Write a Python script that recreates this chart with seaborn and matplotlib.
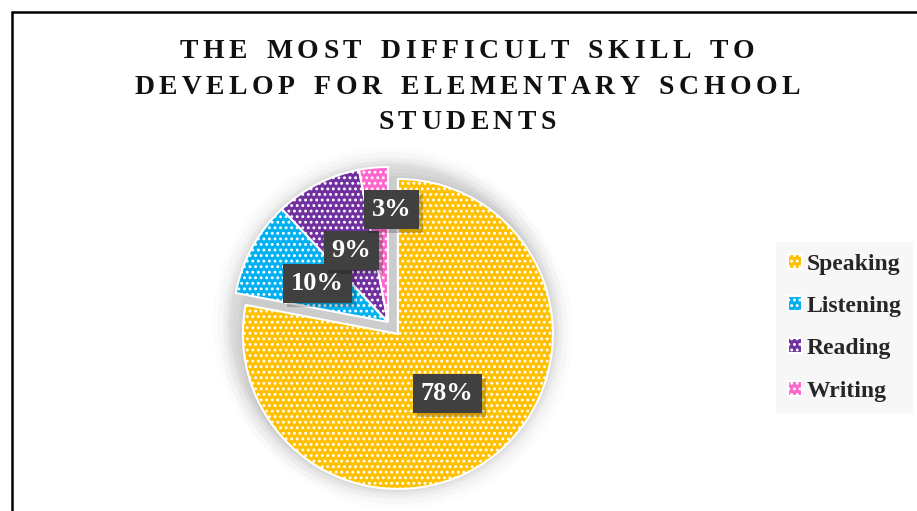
import matplotlib
matplotlib.use("Agg")
import matplotlib.pyplot as plt
import matplotlib.patheffects as pe
import seaborn as sns
import numpy as np
from matplotlib.lines import Line2D

sns.set_theme(style="white")
plt.rcParams['font.family'] = ['Liberation Serif', 'DejaVu Serif']
plt.rcParams['hatch.linewidth'] = 1.3

# data
categories = ["Speaking", "Listening", "Reading", "Writing"]
values = [78, 10, 9, 3]
labels_pct = ["78%", "10%", "9%", "3%"]
colors = ["#FFC000", "#00B0F0", "#7030A0", "#FF66CC"]
title_lines = ["THE MOST DIFFICULT SKILL TO", "DEVELOP FOR ELEMENTARY SCHOOL", "STUDENTS"]

W, H = 917, 511
fig = plt.figure(figsize=(W / 100, H / 100), dpi=100)
fig.patch.set_facecolor("white")
ax = fig.add_axes([0, 0, 1, 1])
ax.axis("off")

center = (388, H - 322)
R = 155
explode = [0.1 * R, 0, 0, 0]
label_dist = [0.5, 0.52, 0.52, 0.73]

# soft shadow (glow behind the two parts of the pie)
mid = np.deg2rad(90 - 360 * values[0] / sum(values) / 2)
sp_center = (center[0] + explode[0] * np.cos(mid), center[1] + explode[0] * np.sin(mid))
for d, a in [(20, 0.02), (15, 0.03), (10, 0.04), (6, 0.05), (3, 0.06)]:
    for c in (center, sp_center):
        ax.pie([1], center=c, radius=R + d, colors=["#707070"],
               wedgeprops=dict(alpha=a, linewidth=0))

wedges, _ = ax.pie(values, center=center, radius=R, explode=explode, startangle=90,
                   counterclock=False, colors=colors,
                   wedgeprops=dict(edgecolor="white", linewidth=1.5, hatch="..."))
ax.set_xlim(0, W)
ax.set_ylim(0, H)
ax.set_aspect("equal")

for w, lab, dist in zip(wedges, labels_pct, label_dist):
    ang = np.deg2rad((w.theta1 + w.theta2) / 2)
    cx, cy = w.center
    x = cx + dist * R * np.cos(ang)
    y = cy + dist * R * np.sin(ang)
    if lab == "3%":
        x += 14
    t = ax.text(x, y, lab, ha="center", va="center", color="white", fontsize=19,
                fontweight="bold",
                bbox=dict(boxstyle="square,pad=0.3", fc="#404040", ec="none"))
    t.get_bbox_patch().set_path_effects(
        [pe.SimplePatchShadow(offset=(3, -3), shadow_rgbFace="black", alpha=0.2), pe.Normal()])

# title with letter spacing (each glyph placed with extra tracking)
renderer = fig.canvas.get_renderer()
tracking = 4.5  # px
baselines = [58, 93.5, 129]
for line, base in zip(title_lines, baselines):
    arts = []
    widths = []
    for ch in line:
        t = fig.text(0, 0, ch, fontsize=20, fontweight="bold", color="#111111",
                     ha="left", va="baseline")
        if ch == " ":
            t.set_text("I")
            wd = t.get_window_extent(renderer).width * 0.95
            t.set_text(" ")
        else:
            wd = t.get_window_extent(renderer).width
        arts.append(t)
        widths.append(wd)
    total = sum(widths) + tracking * (len(line) - 1)
    xpos = 467 - total / 2
    for t, wd in zip(arts, widths):
        t.set_position((xpos / W, 1 - base / H))
        xpos += wd + tracking

# legend
leg = fig.legend(wedges, categories, loc="upper left", bbox_to_anchor=(776 / W, 1 - 242 / H),
                 borderaxespad=0, frameon=True, fancybox=False, facecolor="#F7F7F7",
                 edgecolor="none",
                 prop=dict(family="Liberation Serif", weight="bold", size=17),
                 handlelength=0.6, handleheight=0.6, handletextpad=0.2, labelspacing=0.9,
                 borderpad=0.5)
leg.get_frame().set_alpha(1)

# border
fig.add_artist(Line2D([12 / W, 12 / W], [0, 1 - 12 / H], color="black", lw=1.8, transform=fig.transFigure))
fig.add_artist(Line2D([12 / W, 1], [1 - 12 / H, 1 - 12 / H], color="black", lw=1.8, transform=fig.transFigure))

fig.savefig("out.png", dpi=100)
